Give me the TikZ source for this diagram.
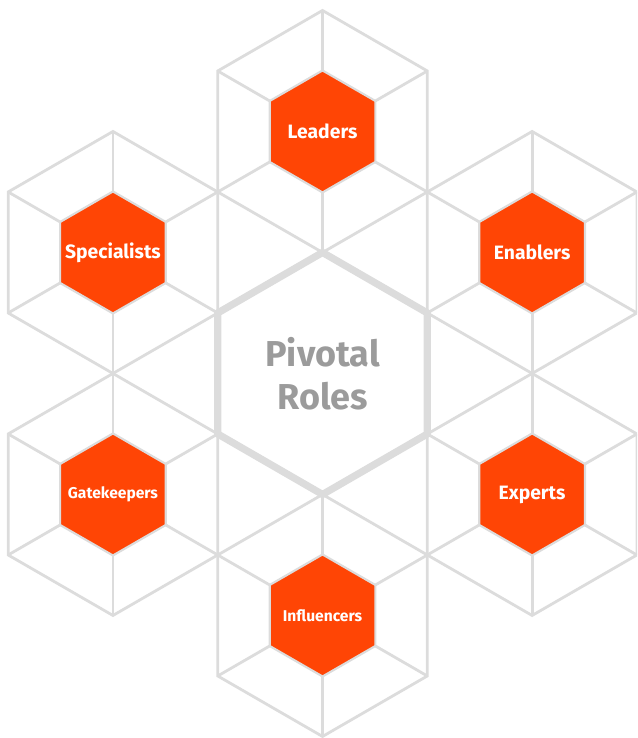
\documentclass[tikz,border=0pt]{standalone}
\usepackage{fontspec}
\setmainfont{Fira Sans}
\usepackage{tikz}
\usetikzlibrary{shapes.geometric}
\usepackage{xcolor}

\definecolor{hexline}{HTML}{DCDCDC}
\definecolor{roleorange}{HTML}{FF4505}
\definecolor{pivotgray}{HTML}{9B9B9B}

\begin{document}
\begin{tikzpicture}[
  hexcell/.style={regular polygon, regular polygon sides=6, shape border rotate=30, inner sep=0pt, outer sep=0pt},
  frame/.style={hexcell, draw=hexline, line width=2.1pt, minimum size=181.5pt},
  hub/.style={frame, line width=5.4pt, text=pivotgray, align=center, font=\bfseries\fontsize{27}{32}\selectfont},
  role/.style={hexcell, draw=hexline, fill=roleorange, line width=1.6pt, minimum size=91.5pt, text=white, font=\bfseries\fontsize{14.5}{16}\selectfont},
  smallrole/.style={role, font=\bfseries\fontsize{11.7}{14}\selectfont},
  spoke/.style={draw=hexline, line width=2.1pt},
]
\clip (-241.9pt,-273.4pt) rectangle (235.9pt,280.1pt);

% Outer cells round the hub
\node[frame] (lead) at (90:181.5pt) {};
\node[frame] (spec) at (150:181.5pt) {};
\node[frame] (gate) at (210:181.5pt) {};
\node[frame] (infl) at (270:181.5pt) {};
\node[frame] (expe) at (330:181.5pt) {};
\node[frame] (enab) at (30:181.5pt) {};

% Hub
\node[hub] (pivot) at (0,0) {Pivotal\\Roles};

% Inner role cells (labels in zero-width boxes so every cell keeps its size)
\node[role] (lead-in) at (lead) {\makebox[0pt]{Leaders}};
\node[role] (spec-in) at (spec) {\makebox[0pt]{Specialists}};
\node[smallrole] (gate-in) at (gate) {\makebox[0pt]{Gatekeepers}};
\node[smallrole] (infl-in) at (infl) {\makebox[0pt]{Influencers}};
\node[role] (expe-in) at (expe) {\makebox[0pt]{Experts}};
\node[role] (enab-in) at (enab) {\makebox[0pt]{Enablers}};

% Spokes from outer corners to inner corners
\foreach \cell in {lead,spec,gate,infl,expe,enab}
  \foreach \k in {1,...,6}
    \draw[spoke] (\cell.corner \k) -- (\cell-in.corner \k);

\end{tikzpicture}
\end{document}
